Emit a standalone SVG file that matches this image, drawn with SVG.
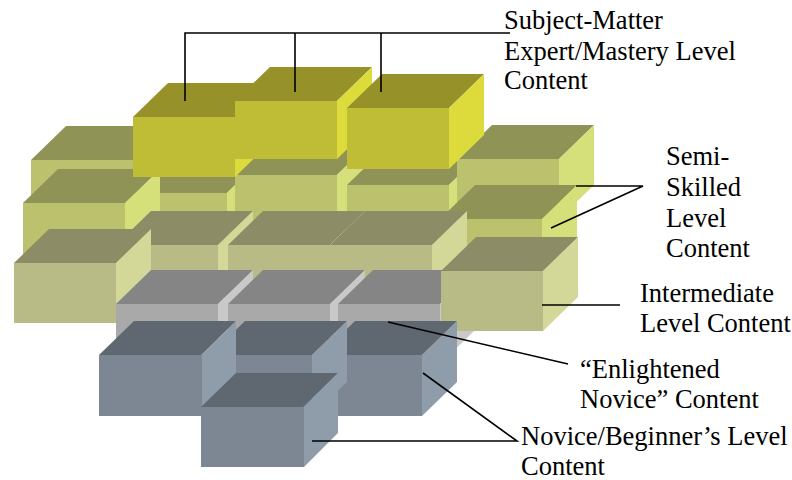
<svg xmlns="http://www.w3.org/2000/svg" width="792" height="480" viewBox="0 0 792 480">
  <style>
    .expert .t { fill: #969129; } .expert .f { fill: #BFBD35; } .expert .s { fill: #DDDA3C; }
    .semi .t { fill: #8F9456; } .semi .f { fill: #BCC16E; } .semi .s { fill: #D6E07B; }
    .inter .t { fill: #8C8C66; } .inter .f { fill: #B8BB85; } .inter .s { fill: #D3D899; }
    .gray .t { fill: #858585; } .gray .f { fill: #A9A9A9; } .gray .s { fill: #C9C9C9; }
    .novice .t { fill: #5F6770; } .novice .f { fill: #7D8793; } .novice .s { fill: #8F9DAB; }
    .lead { fill: none; stroke: #000; stroke-width: 1.6; }
  </style>

  <!-- back row, semi-skilled -->
  <g id="semi-a" class="semi" transform="translate(31,160)"><path class="t" d="M0,0 L35,-34 H137 L102,0 Z"/><rect class="f" width="102" height="60"/><path class="s" d="M102,0 L137,-34 V26 L102,60 Z"/></g>
  <g id="semi-d" class="semi" transform="translate(125,193)"><path class="t" d="M0,0 L35,-34 H137 L102,0 Z"/><rect class="f" width="102" height="60"/><path class="s" d="M102,0 L137,-34 V26 L102,60 Z"/></g>
  <g id="semi-e" class="semi" transform="translate(235,175)"><path class="t" d="M0,0 L35,-34 H137 L102,0 Z"/><rect class="f" width="102" height="60"/><path class="s" d="M102,0 L137,-34 V26 L102,60 Z"/></g>
  <g id="semi-f" class="semi" transform="translate(347,185)"><path class="t" d="M0,0 L35,-34 H137 L102,0 Z"/><rect class="f" width="102" height="60"/><path class="s" d="M102,0 L137,-34 V26 L102,60 Z"/></g>
  <g id="semi-ur" class="semi" transform="translate(457,159)"><path class="t" d="M0,0 L35,-34 H137 L102,0 Z"/><rect class="f" width="102" height="60"/><path class="s" d="M102,0 L137,-34 V26 L102,60 Z"/></g>
  <g id="semi-b" class="semi" transform="translate(23,203)"><path class="t" d="M0,0 L35,-34 H137 L102,0 Z"/><rect class="f" width="102" height="60"/><path class="s" d="M102,0 L137,-34 V26 L102,60 Z"/></g>

  <!-- top tier, subject-matter expert -->
  <g id="expert-1" class="expert" transform="translate(133,117)"><path class="t" d="M0,0 L35,-34 H137 L102,0 Z"/><rect class="f" width="102" height="60"/><path class="s" d="M102,0 L137,-34 V26 L102,60 Z"/></g>
  <g id="expert-2" class="expert" transform="translate(235,101)"><path class="t" d="M0,0 L35,-34 H137 L102,0 Z"/><rect class="f" width="102" height="58"/><path class="s" d="M102,0 L137,-34 V24 L102,58 Z"/></g>
  <g id="expert-3" class="expert" transform="translate(347,108)"><path class="t" d="M0,0 L35,-34 H137 L102,0 Z"/><rect class="f" width="102" height="61"/><path class="s" d="M102,0 L137,-34 V27 L102,61 Z"/></g>

  <g id="semi-mr" class="semi" transform="translate(440,219)"><path class="t" d="M0,0 L35,-34 H137 L102,0 Z"/><rect class="f" width="102" height="60"/><path class="s" d="M102,0 L137,-34 V26 L102,60 Z"/></g>

  <!-- intermediate -->
  <g id="inter-1" class="inter" transform="translate(116,245)"><path class="t" d="M0,0 L35,-34 H137 L102,0 Z"/><rect class="f" width="102" height="60"/><path class="s" d="M102,0 L137,-34 V26 L102,60 Z"/></g>
  <g id="inter-2" class="inter" transform="translate(228,245)"><path class="t" d="M0,0 L35,-34 H137 L102,0 Z"/><rect class="f" width="102" height="60"/><path class="s" d="M102,0 L137,-34 V26 L102,60 Z"/></g>
  <g id="inter-3" class="inter" transform="translate(330,245)"><path class="t" d="M0,0 L35,-34 H137 L102,0 Z"/><rect class="f" width="102" height="60"/><path class="s" d="M102,0 L137,-34 V26 L102,60 Z"/></g>
  <g id="inter-c" class="inter" transform="translate(14,263)"><path class="t" d="M0,0 L35,-34 H137 L102,0 Z"/><rect class="f" width="102" height="60"/><path class="s" d="M102,0 L137,-34 V26 L102,60 Z"/></g>

  <!-- enlightened novice -->
  <g id="gray-1" class="gray" transform="translate(116,304)"><path class="t" d="M0,0 L35,-34 H137 L102,0 Z"/><rect class="f" width="102" height="60"/><path class="s" d="M102,0 L137,-34 V26 L102,60 Z"/></g>
  <g id="gray-2" class="gray" transform="translate(228,304)"><path class="t" d="M0,0 L35,-34 H137 L102,0 Z"/><rect class="f" width="102" height="60"/><path class="s" d="M102,0 L137,-34 V26 L102,60 Z"/></g>
  <g id="gray-3" class="gray" transform="translate(338,304)"><path class="t" d="M0,0 L35,-34 H137 L102,0 Z"/><rect class="f" width="102" height="60"/><path class="s" d="M102,0 L137,-34 V26 L102,60 Z"/></g>

  <g id="inter-r" class="inter" transform="translate(441,271)"><path class="t" d="M0,0 L35,-34 H137 L102,0 Z"/><rect class="f" width="102" height="60"/><path class="s" d="M102,0 L137,-34 V26 L102,60 Z"/></g>

  <!-- novice / beginner -->
  <g id="novice-3" class="novice" transform="translate(320,355)"><path class="t" d="M0,0 L35,-34 H137 L102,0 Z"/><rect class="f" width="102" height="61"/><path class="s" d="M102,0 L137,-34 V27 L102,61 Z"/></g>
  <g id="novice-2" class="novice" transform="translate(210,355)"><path class="t" d="M0,0 L35,-34 H137 L102,0 Z"/><rect class="f" width="102" height="61"/><path class="s" d="M102,0 L137,-34 V27 L102,61 Z"/></g>
  <g id="novice-1" class="novice" transform="translate(99,355)"><path class="t" d="M0,0 L35,-34 H137 L102,0 Z"/><rect class="f" width="103" height="61"/><path class="s" d="M103,0 L137,-34 V27 L103,61 Z"/></g>
  <g id="novice-4" class="novice" transform="translate(201,407)"><path class="t" d="M0,0 L35,-34 H137 L102,0 Z"/><rect class="f" width="103" height="60"/><path class="s" d="M103,0 L137,-34 V26 L103,60 Z"/></g>

  <!-- leader lines -->
  <g id="connectors">
    <path class="lead" d="M185,101 V33 H510 M295,33 V92 M381,33 V92"/>
    <path class="lead" d="M576,186 H643 L551,228"/>
    <path class="lead" d="M542,305 H620"/>
    <path class="lead" d="M388,322 L568,364"/>
    <path class="lead" d="M312,441 H517 L423,373"/>
  </g>

  <!-- labels -->
  <g id="labels" font-family="Liberation Serif, Times New Roman, DejaVu Serif, serif" font-size="26.5" fill="#000">
    <text x="504" y="29">Subject-Matter</text>
    <text x="504" y="60">Expert/Mastery Level</text>
    <text x="504" y="89">Content</text>
    <text x="666" y="165">Semi-</text>
    <text x="666" y="196">Skilled</text>
    <text x="666" y="227">Level</text>
    <text x="666" y="257">Content</text>
    <text x="640" y="302">Intermediate</text>
    <text x="640" y="332">Level Content</text>
    <text x="580" y="378">“Enlightened</text>
    <text x="580" y="408">Novice” Content</text>
    <text x="521" y="445">Novice/Beginner’s Level</text>
    <text x="521" y="475">Content</text>
  </g>
</svg>
